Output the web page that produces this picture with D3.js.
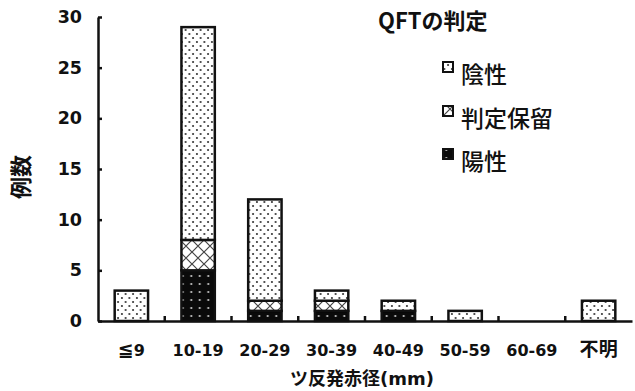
<!DOCTYPE html>
<html>
<head>
<meta charset="utf-8">
<script src="https://cdn.jsdelivr.net/npm/d3@7"></script>
<style>
  html, body { margin: 0; padding: 0; background: #fff; }
  svg { display: block; }
</style>
</head>
<body>
<svg id="chart" width="635" height="391"></svg>
<script>
// Tuberculin reaction size categories
const categories = ["≦9", "10-19", "20-29", "30-39", "40-49", "50-59", "60-69", "不明"];
// QFT result counts per category (stack order: bottom to top)
const positive = [0, 5, 1, 1, 1, 0, 0, 0];   // 陽性
const pending  = [0, 3, 1, 1, 0, 0, 0, 0];   // 判定保留
const negative = [3, 21, 10, 1, 1, 1, 0, 2]; // 陰性
const yTicks = [0, 5, 10, 15, 20, 25, 30];
const seriesKeys = ["陽性", "判定保留", "陰性"];
const legendOrder = ["陰性", "判定保留", "陽性"];

const svg = d3.select("#chart");
const x0 = 98, x1 = 632, yBase = 321, yTop = 17;

const x = d3.scaleBand().domain(categories).range([x0, x1]).paddingInner(0.5).paddingOuter(0.25);
const y = d3.scaleLinear().domain([0, 30]).range([yBase, yTop]);

const defs = svg.append("defs");
// dotted fill
const pNeg = defs.append("pattern").attr("id", "pNeg").attr("patternUnits", "userSpaceOnUse")
  .attr("width", 7.5).attr("height", 8);
pNeg.append("rect").attr("width", 7.5).attr("height", 8).attr("fill", "#fff");
pNeg.append("circle").attr("cx", 1.9).attr("cy", 2).attr("r", 1).attr("fill", "#222");
pNeg.append("circle").attr("cx", 5.6).attr("cy", 6).attr("r", 1).attr("fill", "#222");
// cross-hatch fill
const pPend = defs.append("pattern").attr("id", "pPend").attr("patternUnits", "userSpaceOnUse")
  .attr("width", 12).attr("height", 12);
pPend.append("rect").attr("width", 12).attr("height", 12).attr("fill", "#fff");
pPend.append("path").attr("d", "M0,0L12,12M12,0L0,12").attr("stroke", "#444").attr("stroke-width", 1.2);
// black with white dots
const pPos = defs.append("pattern").attr("id", "pPos").attr("patternUnits", "userSpaceOnUse")
  .attr("width", 8.5).attr("height", 8);
pPos.append("rect").attr("width", 8.5).attr("height", 8).attr("fill", "#0a0a0a");
pPos.append("circle").attr("cx", 4.25).attr("cy", 4).attr("r", 1).attr("fill", "#ddd");

const fills = { "陽性": "url(#pPos)", "判定保留": "url(#pPend)", "陰性": "url(#pNeg)" };

const rows = categories.map((c, i) => ({ cat: c, "陽性": positive[i], "判定保留": pending[i], "陰性": negative[i] }));
const stacked = d3.stack().keys(seriesKeys)(rows);

const font = "'DejaVu Sans', 'Noto Sans CJK JP', sans-serif";
const jpFont = "'Noto Sans CJK JP', sans-serif";

// bars
stacked.forEach(layer => {
  svg.append("g").selectAll("rect")
    .data(layer.filter(d => d[1] - d[0] > 0))
    .join("rect")
    .attr("x", d => x(d.data.cat))
    .attr("width", x.bandwidth())
    .attr("y", d => y(d[1]))
    .attr("height", d => y(d[0]) - y(d[1]))
    .attr("fill", fills[layer.key])
    .attr("stroke", "#111")
    .attr("stroke-width", 2.5);
});

// y axis
const yAxis = svg.append("g").attr("transform", `translate(${x0},0)`)
  .call(d3.axisLeft(y).tickValues(yTicks).tickSize(-4).tickPadding(16).tickSizeOuter(0));
yAxis.select(".domain").attr("stroke", "#111").attr("stroke-width", 2.5);
yAxis.selectAll(".tick line").attr("stroke", "#111").attr("stroke-width", 2.5);
yAxis.selectAll(".tick text").attr("font-family", font).attr("font-weight", "bold")
  .attr("font-size", 17.5).attr("fill", "#111");

// x axis
const xAxis = svg.append("g").attr("transform", `translate(0,${yBase})`)
  .call(d3.axisBottom(x).tickSize(0).tickPadding(24));
xAxis.select(".domain").attr("stroke", "#111").attr("stroke-width", 2.5);
xAxis.selectAll(".tick text").attr("font-family", font).attr("font-weight", "bold")
  .attr("font-size", 16).attr("fill", "#111")
  .each(function(d) {
    // CJK glyphs and symbols are set a little larger than the digits
    const t = d3.select(this);
    t.text(null);
    Array.from(d).forEach(ch => {
      t.append("tspan").attr("font-size", /[\x00-\x7F]/.test(ch) ? 16 : 19).text(ch);
    });
  });
// separators between categories
const step = x.step();
const seps = d3.range(1, categories.length).map(i => x(categories[i]) - x.paddingInner() * step / 2);
svg.append("g").selectAll("line").data(seps).join("line")
  .attr("x1", d => d).attr("x2", d => d)
  .attr("y1", yBase).attr("y2", yBase - 5)
  .attr("stroke", "#111").attr("stroke-width", 2.5);

// axis titles
svg.append("text").attr("x", 362).attr("y", 385).attr("text-anchor", "middle")
  .attr("font-family", font).attr("font-weight", "bold").attr("font-size", 18).attr("fill", "#111")
  .text("ツ反発赤径(mm)");
svg.append("text").attr("transform", "translate(29,177) rotate(-90)").attr("text-anchor", "middle")
  .attr("font-family", font).attr("font-weight", "bold").attr("font-size", 22).attr("fill", "#111")
  .text("例数");

// legend
svg.append("text").attr("x", 378).attr("y", 29)
  .attr("font-family", jpFont).attr("font-weight", "bold").attr("font-size", 22).attr("fill", "#111")
  .text("QFTの判定");
const legendY = [83, 127, 170];
const lg = svg.append("g").selectAll("g").data(legendOrder).join("g")
  .attr("transform", (d, i) => `translate(0,${legendY[i]})`);
lg.append("rect").attr("x", 443).attr("y", -21).attr("width", 10).attr("height", 10)
  .attr("fill", d => fills[d]).attr("stroke", "#111").attr("stroke-width", 2);
lg.append("text").attr("x", 461).attr("y", 0)
  .attr("font-family", jpFont).attr("font-weight", 500).attr("font-size", 23).attr("fill", "#111")
  .text(d => d);
</script>
</body>
</html>
